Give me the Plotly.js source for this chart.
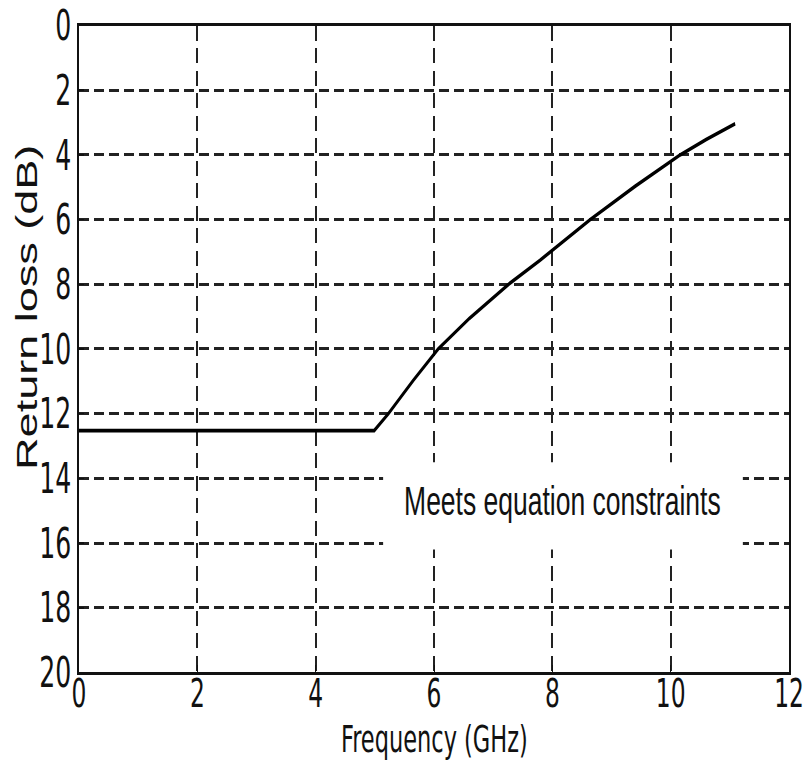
<!DOCTYPE html>
<html>
<head>
<meta charset="utf-8">
<script src="https://cdn.plot.ly/plotly-3.0.1.min.js"></script>
<style>
  html, body { margin: 0; padding: 0; background: #fff; }
  #page { width: 804px; height: 764px; position: relative; overflow: hidden; }
  #wrap { width: 804px; height: 509px; position: absolute; left: 0; top: 0; transform: scale(1, 1.501); transform-origin: 0 0; }
</style>
</head>
<body>
<div id="page"><div id="wrap"></div></div>
<script>
// Data
const freqGHz = [0, 4.99, 5.23, 5.65, 6.07, 6.6, 7.26, 7.79, 8.64, 9.4, 10.16, 10.6, 11.09];
const returnLossDb = [12.52, 12.52, 12, 10.97, 10, 9.05, 8, 7.26, 6, 4.97, 4, 3.52, 3.04];
const xTicks = [0, 2, 4, 6, 8, 10, 12];
const yTicks = [0, 2, 4, 6, 8, 10, 12, 14, 16, 18, 20];
const xTitle = 'Frequency (GHz)';
const yTitle = 'Return loss (dB)';
const noteText = 'Meets equation constraints';

const narrow = 'Liberation Sans Narrow, Arial Narrow, DejaVu Sans Condensed, sans-serif';
const regular = 'Liberation Sans, Arial, sans-serif';

const trace = {
  x: freqGHz, y: returnLossDb, type: 'scatter', mode: 'lines',
  line: { color: '#000', width: 2.5 }, hoverinfo: 'skip'
};

const axisCommon = {
  showline: true, mirror: true, linecolor: '#111', linewidth: 2,
  showgrid: true, gridcolor: '#222', gridwidth: 2, griddash: '10px,5px',
  zeroline: false, ticks: 'inside', ticklen: 5, tickcolor: '#111', tickwidth: 1,
  ticklabeloverflow: 'allow',
  tickfont: { family: narrow, size: 28, color: '#111' }
};

const layout = {
  width: 804, height: 509,
  margin: { l: 79, r: 15, t: 17, b: 61 },
  paper_bgcolor: '#fff', plot_bgcolor: '#fff',
  showlegend: false,
  xaxis: Object.assign({}, axisCommon, {
    range: [0, 12], tickvals: xTicks, ticktext: xTicks.map(String),
    ticklabelstandoff: -10,
    tickfont: { family: narrow, size: 26, color: '#111' }
  }),
  yaxis: Object.assign({}, axisCommon, {
    range: [20, 0], tickvals: yTicks, ticktext: yTicks.map(String)
  }),
  shapes: [{
    type: 'rect', xref: 'x', yref: 'y', x0: 5.14, x1: 11.22, y0: 13.5, y1: 16.2,
    fillcolor: '#fff', line: { width: 0 }, layer: 'between'
  }],
  annotations: [
    { text: noteText, xref: 'x', yref: 'y', x: 8.18, y: 14.7, showarrow: false,
      xanchor: 'center', yanchor: 'middle',
      font: { family: regular, size: 26.5, color: '#111' } },
    { text: xTitle, xref: 'paper', yref: 'paper', x: 0.5, y: -0.139, showarrow: false,
      xanchor: 'center', yanchor: 'bottom', borderpad: 0,
      font: { family: narrow, size: 25, color: '#111' } },
    { text: yTitle, xref: 'paper', yref: 'paper', x: -0.073, y: 0.564, showarrow: false,
      textangle: -90, xanchor: 'center', yanchor: 'middle',
      font: { family: regular, size: 30, color: '#111' } }
  ]
};

Plotly.newPlot('wrap', [trace], layout, { staticPlot: true, displayModeBar: false });
</script>
</body>
</html>
